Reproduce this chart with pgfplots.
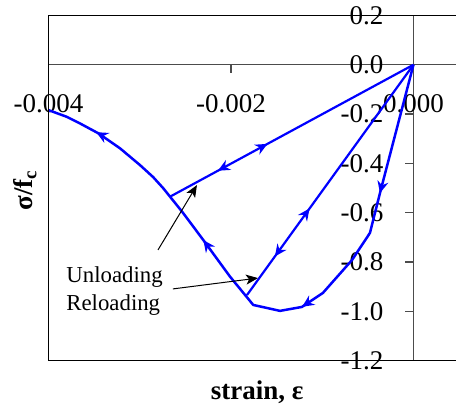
\documentclass[border=0pt]{standalone}
\usepackage{fontspec}
\setmainfont{Liberation Serif}
\usepackage{pgfplots}
\pgfplotsset{compat=1.18}
\usetikzlibrary{decorations.markings,arrows.meta}
\tikzset{barrow/.tip={Stealth[length=6pt,width=5.5pt,inset=2pt]}}
\begin{document}
\begin{tikzpicture}
\begin{axis}[
  at={(0,0)}, anchor=south west,
  scale only axis,
  width=203.75pt, height=172.65pt,
  xmin=-0.004, xmax=0.000466,
  ymin=-1.2, ymax=0.2,
  axis lines=middle,
  axis line style={-, black!70, line width=0.6pt},
  every inner x axis line/.append style={-},
  every inner y axis line/.append style={-},
  hide obscured x ticks=false,
  hide obscured y ticks=false,
  xtick={-0.004,-0.002,0},
  xticklabels={-0.004,-0.002,0.000},
  ytick={-1.2,-1,-0.8,-0.6,-0.4,-0.2,0,0.2},
  yticklabels={-1.2,-1.0,-0.8,-0.6,-0.4,-0.2,0.0,0.2},
  scaled x ticks=false,
  tick align=outside,
  major tick length=4pt,
  tick style={black!70, line width=0.6pt},
  xticklabel style={font=\fontsize{13.5}{16}\selectfont, anchor=north, yshift=-7.5pt},
  yticklabel style={font=\fontsize{13.5}{16}\selectfont, anchor=east, xshift=-7.5pt},
  xlabel={\textbf{strain, ε}},
  ylabel={\textbf{σ/f\textsubscript{c}}},
  every axis x label/.style={at={(axis description cs:0.512,-0.091)}, anchor=center, font=\fontsize{13.5}{16}\selectfont},
  every axis y label/.style={at={(axis description cs:-0.058,0.494)}, anchor=center, rotate=90, font=\fontsize{13.5}{16}\selectfont},
  clip=false,
]
% envelope (loading then softening)
\addplot[color=blue, line width=1.25pt, line join=round,
  postaction={decorate},
  decoration={markings,
    mark=at position 0.2165 with {\arrow{barrow}},
    mark=at position 0.449 with {\arrow{barrow}},
    mark=at position 0.664 with {\arrow{barrow}},
    mark=at position 0.914 with {\arrow{barrow}}}]
coordinates {
(0,0) (-0.000367,-0.520) (-0.000477,-0.682) (-0.000674,-0.792)
(-0.000992,-0.925) (-0.001222,-0.982) (-0.001463,-0.998) (-0.001756,-0.974)
(-0.002011,-0.859) (-0.002307,-0.709) (-0.002523,-0.602) (-0.002668,-0.535)
(-0.002742,-0.501) (-0.002852,-0.456) (-0.002997,-0.407) (-0.003216,-0.339)
(-0.003454,-0.278) (-0.003655,-0.238) (-0.003801,-0.211) (-0.004,-0.184)
};
% unloading / reloading line 1
\addplot[color=blue, line width=1.1pt,
  postaction={decorate},
  decoration={markings,
    mark=at position 0.24 with {\arrow{barrow[reversed]}},
    mark=at position 0.40 with {\arrow{barrow}}}]
coordinates {(-0.002668,-0.535) (0,0)};
% unloading / reloading line 2
\addplot[color=blue, line width=1.1pt,
  postaction={decorate},
  decoration={markings,
    mark=at position 0.21 with {\arrow{barrow[reversed]}},
    mark=at position 0.376 with {\arrow{barrow}}}]
coordinates {(-0.001825,-0.934) (0,0)};
% border
\draw[black, line width=0.8pt] (rel axis cs:1,1) -- (rel axis cs:0,1) -- (rel axis cs:0,0) -- (rel axis cs:1,0);
% annotation
\draw[black, line width=0.5pt, -{Stealth[length=6pt,width=5pt,inset=1.5pt]}] (axis cs:-0.0028,-0.751) -- (axis cs:-0.002373,-0.488);
\draw[black, line width=0.5pt, -{Stealth[length=6pt,width=5pt,inset=1.5pt]}] (axis cs:-0.002636,-0.909) -- (axis cs:-0.001704,-0.865);
\node[anchor=west, align=left, inner sep=0pt, font=\fontsize{11.4}{14}\selectfont] at (axis cs:-0.003808,-0.918) {Unloading\\Reloading};
\end{axis}
\pgfresetboundingbox
\path (-24.25pt,-24.65pt) rectangle (203.75pt,180.35pt);
\end{tikzpicture}
\end{document}
